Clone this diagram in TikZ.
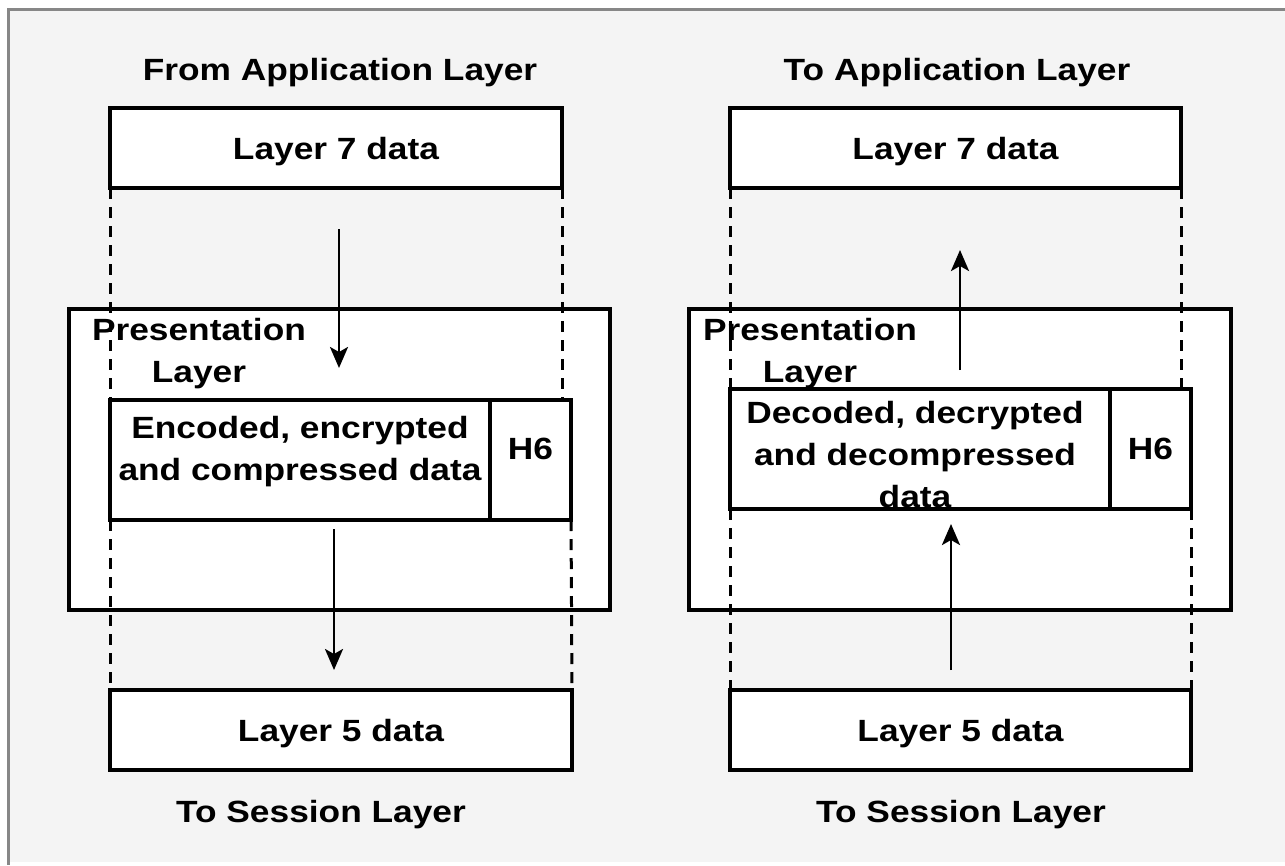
\documentclass[tikz,border=0pt]{standalone}
\usepackage{fontspec}
\setmainfont{Liberation Sans}[FakeStretch=1.15]
\usetikzlibrary{arrows.meta,positioning}

\definecolor{paper}{RGB}{244,244,244}
\definecolor{framegray}{RGB}{135,135,135}

\tikzset{
  pbox/.style={draw=black,fill=white,line width=3.2pt,inner sep=0pt,outer sep=0pt,
    text depth=0pt,font=\fontsize{30.7}{42}\selectfont\bfseries},
  txt/.style={font=\fontsize{30.7}{42}\selectfont\bfseries,inner sep=0pt,align=center},
  guide/.style={line width=3pt,dash pattern=on 11pt off 8pt},
  flow/.style={line width=2.8pt,-{Stealth[length=21pt,width=18pt,inset=5pt]}},
}

\begin{document}
\begin{tikzpicture}[x=1pt,y=-1pt]
\useasboundingbox (0,0) rectangle (1285,865);
\fill[white] (0,0) rectangle (1285,865);
\fill[paper] (8,9) rectangle (1285,862);
\draw[framegray,line width=3pt] (1285,9) -- (8,9) -- (8,865);

\coordinate (dnA) at (339,229);
\coordinate (dnB) at (339,368);
\coordinate (dnC) at (334,529);
\coordinate (dnD) at (334,670);
\coordinate (upA) at (960,370);
\coordinate (upB) at (960,250);
\coordinate (upC) at (951,670);
\coordinate (upD) at (951,524);

% sending side
\node[pbox,minimum width=541,minimum height=301] (presL) at (339.5,459.5) {};
\node[txt,anchor=base] (fromapp) at (340,80) {From Application Layer};
\node[pbox,minimum width=452,minimum height=80] (l7L) at (336,148) {Layer 7 data};
\node[pbox,minimum width=380,minimum height=120] (encL) at (300,460) {};
\node[pbox,minimum width=81,minimum height=120,right=0pt of encL] (h6L) {};
\node[pbox,minimum width=462,minimum height=80] (l5L) at (341,730) {Layer 5 data};
\node[txt,anchor=base] (tosesL) at (321,822) {To Session Layer};

\draw[guide] (l7L.south west) -- (l7L.south west |- encL.north);
\draw[guide] (l7L.south east) -- (l7L.south east |- encL.north);
\draw[guide] (encL.south west) -- (l5L.north west);
\draw[guide] (h6L.south east) -- (l5L.north east);
\draw[flow] (dnA) -- (dnB);
\draw[flow] (dnC) -- (dnD);

\node[txt] (presLtxt) at (199,354) {Presentation\\Layer};
\node[txt] (encLtxt) at ([yshift=8pt]encL.center) {Encoded, encrypted\\and compressed data};
\node[txt] (h6Ltxt) at ([yshift=11pt]h6L.center) {H6};

% receiving side
\node[pbox,minimum width=542,minimum height=301] (presR) at (960,459.5) {};
\node[txt,anchor=base] (toapp) at (957,80) {To Application Layer};
\node[pbox,minimum width=451,minimum height=80] (l7R) at (955.5,148) {Layer 7 data};
\node[pbox,minimum width=380,minimum height=120] (decR) at (920,449) {};
\node[pbox,minimum width=81,minimum height=120,right=0pt of decR] (h6R) {};
\node[pbox,minimum width=461,minimum height=80] (l5R) at (960.5,730) {Layer 5 data};
\node[txt,anchor=base] (tosesR) at (961,822) {To Session Layer};

\draw[guide] (l7R.south west) -- (l7R.south west |- decR.north);
\draw[guide] (l7R.south east) -- (l7R.south east |- decR.north);
\draw[guide] (decR.south west) -- (l5R.north west);
\draw[guide] (h6R.south east) -- (l5R.north east);
\draw[flow] (upA) -- (upB);
\draw[flow] (upC) -- (upD);

\node[txt] (presRtxt) at (810,354) {Presentation\\Layer};
\node[txt] (decRtxt) at ([xshift=-5pt,yshift=-6pt]decR.center) {Decoded, decrypted\\and decompressed\\data};
\node[txt] (h6Rtxt) at (h6R.center) {H6};
\end{tikzpicture}
\end{document}
